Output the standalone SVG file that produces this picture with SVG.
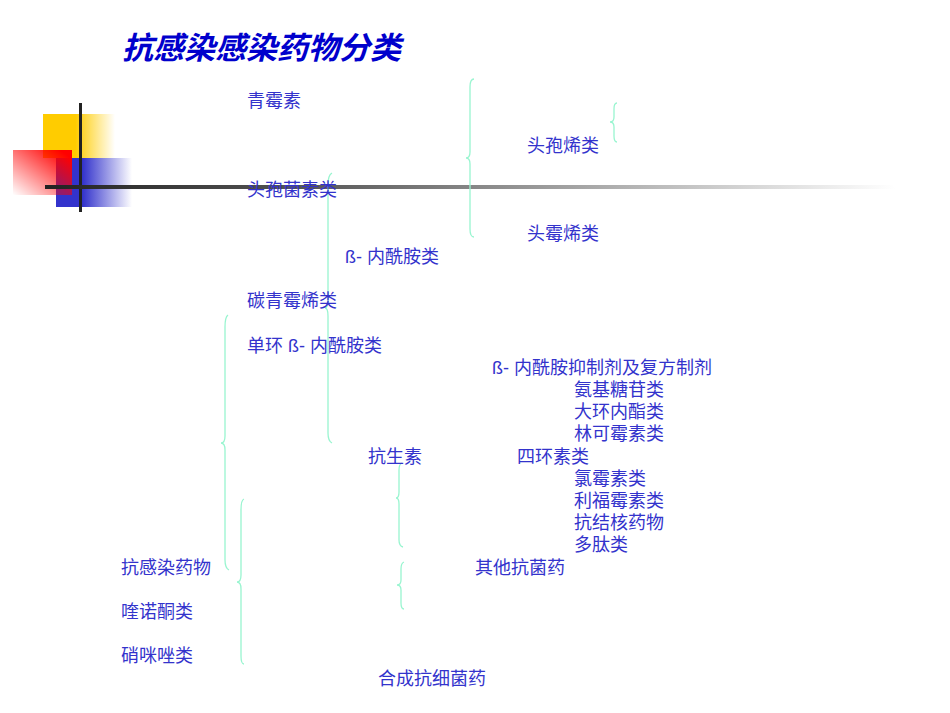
<svg xmlns="http://www.w3.org/2000/svg" width="950" height="713" viewBox="0 0 950 713">
<style>
.t{font-family:"Liberation Sans","Noto Sans CJK SC",sans-serif;font-size:18px;fill:#3333CC}
.title{font-family:"Liberation Sans","Noto Sans CJK SC",sans-serif;font-size:31px;font-weight:bold;font-style:italic;fill:#0000CC}
.br{fill:none;stroke:#99F5D0;stroke-width:1.3}
</style>
<defs>
<linearGradient id="gy" x1="0" y1="0" x2="1" y2="0"><stop offset="0.45" stop-color="#FFCC00"/><stop offset="1" stop-color="#FFCC00" stop-opacity="0"/></linearGradient>
<linearGradient id="gb" x1="0" y1="0" x2="1" y2="0"><stop offset="0.35" stop-color="#3333CC"/><stop offset="1" stop-color="#3333CC" stop-opacity="0"/></linearGradient>
<linearGradient id="gr" x1="1" y1="0" x2="0" y2="1"><stop offset="0.1" stop-color="#FF0000"/><stop offset="1" stop-color="#FF0000" stop-opacity="0"/></linearGradient>
<linearGradient id="gl" x1="0" y1="0" x2="1" y2="0"><stop offset="0" stop-color="#222222"/><stop offset="0.3" stop-color="#555555"/><stop offset="1" stop-color="#FFFFFF"/></linearGradient>
</defs>
<rect width="950" height="713" fill="#FFFFFF"/>
<g id="decoration">
<rect x="43" y="114" width="72" height="44" fill="url(#gy)"/>
<rect x="56" y="158" width="76" height="49" fill="url(#gb)"/>
<rect x="13" y="150" width="59" height="45" fill="url(#gr)"/>
<rect x="79" y="103" width="3" height="109" fill="#222222"/>
<rect x="45" y="185" width="850" height="4" fill="url(#gl)"/>
</g>
<g id="title"><text class="title" x="122" y="59">抗感染感染药物分类</text></g>
<g id="connectors">
<path class="br" d="M474 79 Q470 79 470 87 L470 152 Q470 158 466 158 Q470 158 470 164 L470 229 Q470 237 474 237"/>
<path class="br" d="M617 103 Q614 103 614 109 L614 117 Q614 122 610 122 Q614 122 614 127 L614 136 Q614 142 617 142"/>
<path class="br" d="M332 173 Q328 175 328 185 L328 300 Q328 308 325 308 Q328 308 328 316 L328 433 Q328 441 332 443"/>
<path class="br" d="M228 315 Q225 317 225 327 L225 436 Q225 443 221 443 Q225 443 225 450 L225 560 Q225 568 229 570"/>
<path class="br" d="M402 463 Q399 464 399 470 L399 492 Q399 498 396 498 Q399 498 399 504 L399 540 Q399 546 403 547"/>
<path class="br" d="M404 562 Q401 563 401 569 L401 580 Q401 585 397 585 Q401 585 401 590 L401 603 Q401 609 404 609"/>
<path class="br" d="M244 499 Q241 500 241 510 L241 575 Q241 582 237 582 Q241 582 241 589 L241 656 Q241 664 244 664"/>
</g>
<g id="n1"><text class="t" x="247" y="107">青霉素</text></g>
<g id="n2"><text class="t" x="527" y="152">头孢烯类</text></g>
<g id="n3"><text class="t" x="247" y="196">头孢菌素类</text></g>
<g id="n4"><text class="t" x="527" y="240">头霉烯类</text></g>
<g id="n5"><text class="t" x="345" y="263">ß- 内酰胺类</text></g>
<g id="n6"><text class="t" x="247" y="307">碳青霉烯类</text></g>
<g id="n7"><text class="t" x="247" y="352">单环 ß- 内酰胺类</text></g>
<g id="n8"><text class="t" x="492" y="374">ß- 内酰胺抑制剂及复方制剂</text></g>
<g id="n9"><text class="t" x="574" y="396">氨基糖苷类</text></g>
<g id="n10"><text class="t" x="574" y="418">大环内酯类</text></g>
<g id="n11"><text class="t" x="574" y="440">林可霉素类</text></g>
<g id="n12"><text class="t" x="368" y="463">抗生素</text></g>
<g id="n13"><text class="t" x="517" y="463">四环素类</text></g>
<g id="n14"><text class="t" x="574" y="485">氯霉素类</text></g>
<g id="n15"><text class="t" x="574" y="507">利福霉素类</text></g>
<g id="n16"><text class="t" x="574" y="529">抗结核药物</text></g>
<g id="n17"><text class="t" x="574" y="551">多肽类</text></g>
<g id="n18"><text class="t" x="121" y="574">抗感染药物</text></g>
<g id="n19"><text class="t" x="475" y="574">其他抗菌药</text></g>
<g id="n20"><text class="t" x="121" y="618">喹诺酮类</text></g>
<g id="n21"><text class="t" x="121" y="662">硝咪唑类</text></g>
<g id="n22"><text class="t" x="378" y="685">合成抗细菌药</text></g>
</svg>
